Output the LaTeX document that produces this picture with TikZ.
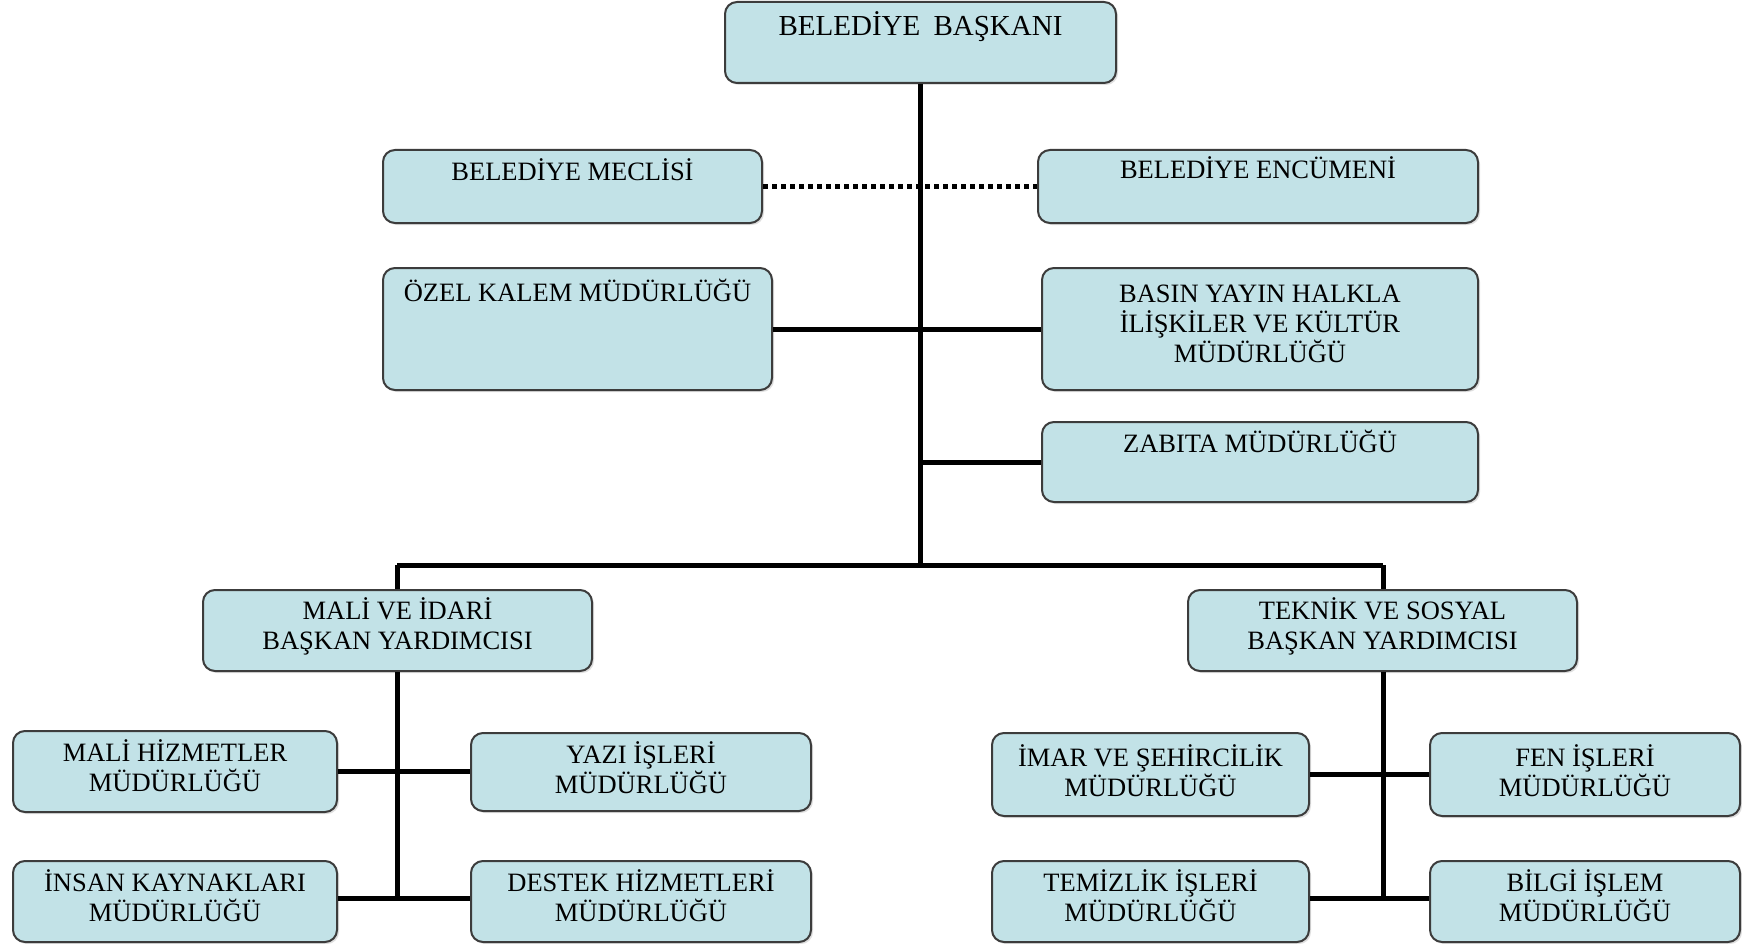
\documentclass[tikz,border=0pt]{standalone}
\usepackage{fontspec}
\setmainfont{Liberation Serif}
\usetikzlibrary{shadows}
\definecolor{boxfill}{RGB}{194,226,231}
\definecolor{boxline}{RGB}{60,60,60}
% width, height, first-baseline depth, text
\newcommand{\boxtxt}[4]{\parbox[c][#2pt][t]{#1pt}{\centering\rule{0pt}{#3pt}#4}}
\tikzset{
  orgbox/.style={draw=boxline, line width=2pt, fill=boxfill, rounded corners=12pt,
    inner sep=0pt, font=\fontsize{26.5}{30}\selectfont,
    drop shadow={opacity=0.25, shadow xshift=2pt, shadow yshift=-2pt}},
  link/.style={line width=5pt, draw=black},
  dotlink/.style={line width=5pt, draw=black, dash pattern=on 5pt off 4pt},
}
\begin{document}
\begin{tikzpicture}[x=1pt,y=-1pt]
\useasboundingbox[fill=white] (0,0) rectangle (1742,944);

\node[orgbox, font=\fontsize{29}{32}\selectfont] (baskan) at (920.5,42.5) {\boxtxt{391}{81}{34}{BELEDİYE\hspace{6pt} BAŞKANI}};

\node[orgbox] (meclis) at (572.5,186.5) {\boxtxt{379}{73}{31}{BELEDİYE MECLİSİ}};
\node[orgbox] (encumen) at (1258,186.5) {\boxtxt{440}{73}{29}{BELEDİYE ENCÜMENİ}};
\node[orgbox] (ozel) at (577.5,329) {\boxtxt{389}{122}{33}{ÖZEL KALEM MÜDÜRLÜĞÜ}};
\node[orgbox] (basin) at (1260,329) {\boxtxt{436}{122}{34}{BASIN YAYIN HALKLA\\İLİŞKİLER VE KÜLTÜR\\MÜDÜRLÜĞÜ}};
\node[orgbox] (zabita) at (1260,462) {\boxtxt{436}{80}{30}{ZABITA MÜDÜRLÜĞÜ}};

\node[orgbox] (mali) at (397.5,630.5) {\boxtxt{389}{81}{29}{MALİ VE İDARİ\\BAŞKAN YARDIMCISI}};
\node[orgbox] (teknik) at (1382.5,630.5) {\boxtxt{389}{81}{29}{TEKNİK VE SOSYAL\\BAŞKAN YARDIMCISI}};

\node[orgbox] (malihiz) at (175,771.5) {\boxtxt{324}{81}{30}{MALİ HİZMETLER\\MÜDÜRLÜĞÜ}};
\node[orgbox] (yazi) at (641,772) {\boxtxt{340}{78}{30}{YAZI İŞLERİ\\MÜDÜRLÜĞÜ}};
\node[orgbox] (insan) at (175,901.5) {\boxtxt{324}{81}{30}{İNSAN KAYNAKLARI\\MÜDÜRLÜĞÜ}};
\node[orgbox] (destek) at (641,901.5) {\boxtxt{340}{81}{30}{DESTEK HİZMETLERİ\\MÜDÜRLÜĞÜ}};

\node[orgbox] (imar) at (1150.5,774.5) {\boxtxt{317}{83}{33}{İMAR VE ŞEHİRCİLİK\\MÜDÜRLÜĞÜ}};
\node[orgbox] (fen) at (1585,774.5) {\boxtxt{310}{83}{33}{FEN İŞLERİ\\MÜDÜRLÜĞÜ}};
\node[orgbox] (temizlik) at (1150.5,901.5) {\boxtxt{317}{81}{30}{TEMİZLİK İŞLERİ\\MÜDÜRLÜĞÜ}};
\node[orgbox] (bilgi) at (1585,901.5) {\boxtxt{310}{81}{30}{BİLGİ İŞLEM\\MÜDÜRLÜĞÜ}};

% coordinates on the spines
\coordinate (bus) at (920,565);
\coordinate (busL) at (397,565);
\coordinate (busR) at (1383,565);
\coordinate (zj) at (920,462);
\coordinate (lEnd) at (397,898);
\coordinate (rEnd) at (1383,898);

\draw[link] (baskan.south -| bus) -- (bus);
\draw[dotlink] (meclis.east) -- (encumen.west);
\draw[link] (ozel.east) -- (basin.west);
\draw[link] (zj) -- (zabita.west);
\draw[link] (busL) -- (busR);
\draw[link] (busL) -- (mali.north -| busL);
\draw[link] (busR) -- (teknik.north -| busR);
\draw[link] (mali.south -| busL) -- (lEnd);
\draw[link] (teknik.south -| busR) -- (rEnd);
\draw[link] (malihiz.east) -- (yazi.west |- malihiz.east);
\draw[link] (insan.east |- lEnd) -- (destek.west |- lEnd);
\draw[link] (imar.east) -- (fen.west);
\draw[link] (temizlik.east |- rEnd) -- (bilgi.west |- rEnd);
\end{tikzpicture}
\end{document}
